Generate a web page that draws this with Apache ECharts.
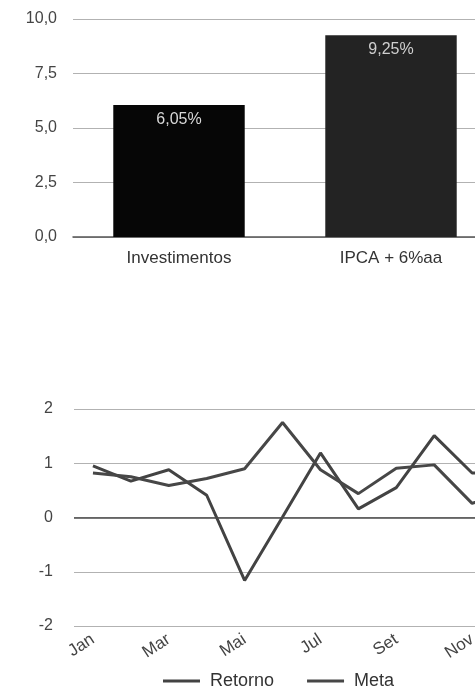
<!DOCTYPE html>
<html>
<head>
<meta charset="utf-8">
<script src="https://cdn.jsdelivr.net/npm/echarts@6/dist/echarts.min.js"></script>
<style>
html,body{margin:0;padding:0;background:#fff;}
#c{width:475px;height:690px;}
</style>
</head>
<body>
<div id="c"></div>
<script>
// ---- Data ----
var barCategories = ['Investimentos', 'IPCA + 6%aa'];
var barValues = [6.05, 9.25];
var barTickLabels = ['0,0', '2,5', '5,0', '7,5', '10,0'];

var months = ['Jan', 'Fev', 'Mar', 'Abr', 'Mai', 'Jun', 'Jul', 'Ago', 'Set', 'Out', 'Nov', 'Dez'];
var retorno = [0.95, 0.67, 0.88, 0.41, -1.16, 0.01, 1.19, 0.16, 0.55, 1.51, 0.82, 0.80];
var meta = [0.82, 0.75, 0.59, 0.72, 0.90, 1.75, 0.88, 0.44, 0.91, 0.97, 0.26, 0.50];
var lineTickLabels = ['-2', '-1', '0', '1', '2'];

var barColors = ['#060606', '#232323'];
var labelColors = ['#d8d8d8', '#cfcfcf'];

var chart = echarts.init(document.getElementById('c'), null, {renderer: 'canvas'});
var font = 'Liberation Sans, Arial, sans-serif';

var option = {
  animation: false,
  backgroundColor: '#ffffff',
  textStyle: {fontFamily: font},
  legend: {
    data: ['Retorno', 'Meta'],
    left: 158,
    top: 667,
    itemWidth: 37,
    itemHeight: 3,
    itemGap: 33,
    icon: 'rect',
    textStyle: {fontSize: 18, lineHeight: 18, color: '#333', fontFamily: font, padding: [0, 0, 0, 5]}
  },
  grid: [
    {left: 73, top: 19, width: 424, height: 218, containLabel: false, outerBoundsMode: 'none'},
    {left: 74, top: 409, width: 455, height: 217, containLabel: false, outerBoundsMode: 'none'}
  ],
  xAxis: [
    {
      type: 'category', gridIndex: 0, data: barCategories,
      axisLine: {show: true, lineStyle: {color: '#555', width: 1.5}},
      axisTick: {show: false},
      axisLabel: {fontSize: 17, color: '#333', margin: 13, fontFamily: font}
    },
    {
      type: 'category', gridIndex: 1, data: months, boundaryGap: true,
      axisLine: {show: false},
      axisTick: {show: false},
      axisLabel: {fontSize: 17, color: '#444', rotate: 33, interval: 1, margin: 12, fontFamily: font}
    }
  ],
  yAxis: [
    {
      type: 'value', gridIndex: 0, min: 0, max: 10, interval: 2.5,
      axisLine: {show: false}, axisTick: {show: false},
      splitLine: {lineStyle: {color: '#b2b2b2', width: 1}},
      axisLabel: {
        fontSize: 16, color: '#444', margin: 16, fontFamily: font,
        formatter: function (v) { return barTickLabels[Math.round(v / 2.5)]; }
      }
    },
    {
      type: 'value', gridIndex: 1, min: -2, max: 2, interval: 1,
      axisLine: {show: false}, axisTick: {show: false},
      splitLine: {lineStyle: {color: '#b2b2b2', width: 1}},
      axisLabel: {
        fontSize: 16, color: '#444', margin: 21, fontFamily: font,
        formatter: function (v) { return lineTickLabels[Math.round(v + 2)]; }
      }
    }
  ],
  series: [
    {
      type: 'bar', xAxisIndex: 0, yAxisIndex: 0, barWidth: '62%',
      data: barValues.map(function (v, i) {
        return {value: v, itemStyle: {color: barColors[i]}, label: {color: labelColors[i]}};
      }),
      label: {
        show: true, position: 'insideTop', distance: 6, fontSize: 16, fontFamily: font,
        formatter: function (p) { return p.value.toFixed(2).replace('.', ',') + '%'; }
      }
    },
    {
      name: 'Retorno', type: 'line', xAxisIndex: 1, yAxisIndex: 1,
      data: retorno, symbol: 'none', smooth: false,
      lineStyle: {color: '#434343', width: 3},
      itemStyle: {color: '#434343'},
      markLine: {
        silent: true, symbol: 'none', label: {show: false},
        lineStyle: {color: '#4a4a4a', width: 1.5, type: 'solid'},
        data: [{yAxis: 0}]
      },
      z: 3
    },
    {
      name: 'Meta', type: 'line', xAxisIndex: 1, yAxisIndex: 1,
      data: meta, symbol: 'none', smooth: false,
      lineStyle: {color: '#474747', width: 3},
      itemStyle: {color: '#474747'},
      z: 3
    }
  ]
};
chart.setOption(option);
</script>
</body>
</html>
